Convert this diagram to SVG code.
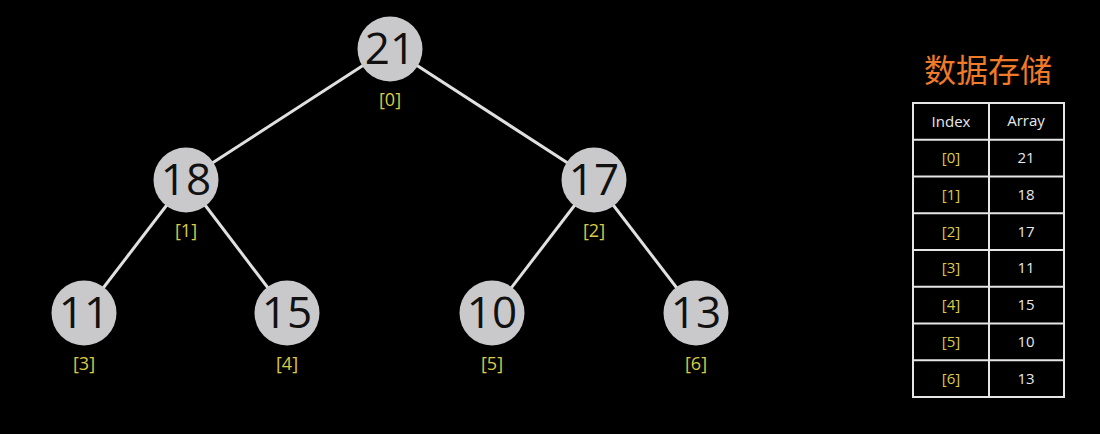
<svg xmlns="http://www.w3.org/2000/svg" width="1100" height="434" viewBox="0 0 1100 434">
<style>
.node circle{fill:#c9c9cb;}
.num{font-family:"Open Sans","Noto Sans","DejaVu Sans",sans-serif;font-size:44px;fill:#111;text-anchor:middle;}
.idx{font-family:"Open Sans","Noto Sans","DejaVu Sans",sans-serif;font-size:18px;fill:#d9cb45;text-anchor:middle;}
.edge{stroke:#e0e0e0;stroke-width:3;}
.cell{fill:none;stroke:#e6e6e6;stroke-width:2;}
.th{font-family:"Open Sans","Noto Sans","DejaVu Sans",sans-serif;font-size:15px;fill:#e8e8e8;text-anchor:middle;}
.td{font-family:"Open Sans","Noto Sans","DejaVu Sans",sans-serif;font-size:15px;fill:#e8e8e8;text-anchor:middle;}
.ti{font-family:"Open Sans","Noto Sans","DejaVu Sans",sans-serif;font-size:15px;fill:#d9cb45;text-anchor:middle;}
</style>
<rect width="1100" height="434" fill="#000"/>
<g id="connectors">
<line class="edge" x1="390" y1="48" x2="186" y2="180"/>
<line class="edge" x1="390" y1="48" x2="594" y2="180"/>
<line class="edge" x1="186" y1="180" x2="84" y2="313"/>
<line class="edge" x1="186" y1="180" x2="287" y2="313"/>
<line class="edge" x1="594" y1="180" x2="492" y2="313"/>
<line class="edge" x1="594" y1="180" x2="696" y2="313"/>
</g>
<g id="n0" class="node"><circle cx="390" cy="49" r="32.5"/><text class="num" x="390" y="64">21</text><text class="idx" x="390" y="106">[0]</text></g>
<g id="n1" class="node"><circle cx="186" cy="180" r="32.5"/><text class="num" x="186" y="195">18</text><text class="idx" x="186" y="237">[1]</text></g>
<g id="n2" class="node"><circle cx="594" cy="180" r="32.5"/><text class="num" x="594" y="195">17</text><text class="idx" x="594" y="237">[2]</text></g>
<g id="n3" class="node"><circle cx="84" cy="313" r="32.5"/><text class="num" x="84" y="328">11</text><text class="idx" x="84" y="370">[3]</text></g>
<g id="n4" class="node"><circle cx="287" cy="313" r="32.5"/><text class="num" x="287" y="328">15</text><text class="idx" x="287" y="370">[4]</text></g>
<g id="n5" class="node"><circle cx="492" cy="313" r="32.5"/><text class="num" x="492" y="328">10</text><text class="idx" x="492" y="370">[5]</text></g>
<g id="n6" class="node"><circle cx="696" cy="313" r="32.5"/><text class="num" x="696" y="328">13</text><text class="idx" x="696" y="370">[6]</text></g>
<g id="table">
<text x="988" y="82" font-family="'Noto Sans CJK SC',sans-serif" font-size="32" fill="#ee7a2a" text-anchor="middle">数据存储</text>
<rect class="cell" x="913" y="103" width="151" height="294"/>
<line class="cell" x1="989" y1="103" x2="989" y2="397"/>
<line class="cell" x1="913" y1="139.75" x2="1064" y2="139.75"/>
<line class="cell" x1="913" y1="176.5" x2="1064" y2="176.5"/>
<line class="cell" x1="913" y1="213.25" x2="1064" y2="213.25"/>
<line class="cell" x1="913" y1="250" x2="1064" y2="250"/>
<line class="cell" x1="913" y1="286.75" x2="1064" y2="286.75"/>
<line class="cell" x1="913" y1="323.5" x2="1064" y2="323.5"/>
<line class="cell" x1="913" y1="360.25" x2="1064" y2="360.25"/>
<text class="th" x="951" y="127">Index</text><text class="th" x="1026" y="126">Array</text>
<text class="ti" x="951" y="163">[0]</text><text class="td" x="1026" y="163">21</text>
<text class="ti" x="951" y="200">[1]</text><text class="td" x="1026" y="200">18</text>
<text class="ti" x="951" y="237">[2]</text><text class="td" x="1026" y="237">17</text>
<text class="ti" x="951" y="273">[3]</text><text class="td" x="1026" y="273">11</text>
<text class="ti" x="951" y="310">[4]</text><text class="td" x="1026" y="310">15</text>
<text class="ti" x="951" y="347">[5]</text><text class="td" x="1026" y="347">10</text>
<text class="ti" x="951" y="384">[6]</text><text class="td" x="1026" y="384">13</text>
</g>
</svg>
